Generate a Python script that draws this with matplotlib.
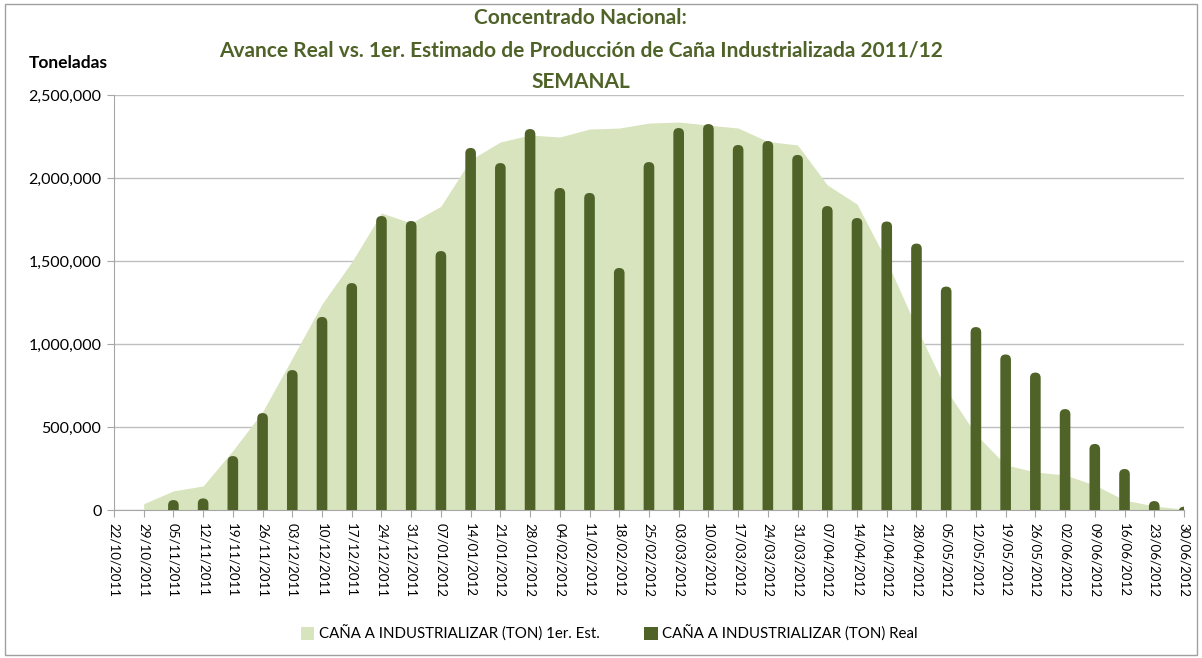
import numpy as np
import pandas as pd
import matplotlib
matplotlib.use("Agg")
import matplotlib.pyplot as plt
import matplotlib.dates as mdates
from matplotlib.patches import FancyBboxPatch, Patch, Rectangle
from matplotlib.ticker import FuncFormatter

plt.rcParams['font.family'] = ['Lato', 'DejaVu Sans']

# semanas (sabados) del eje
semanas = pd.date_range("2011-10-22", "2012-06-30", freq="7D")

# 1er. estimado, desde 29/10/2011
estimado = [38000, 115000, 145000, 358000, 592000, 915000, 1241000, 1494000,
            1789000, 1729000, 1830000, 2110000, 2217000, 2259000, 2247000,
            2295000, 2301000, 2331000, 2337000, 2319000, 2301000, 2220000,
            2199000, 1958000, 1843000, 1500000, 1100000, 725000, 455000,
            272000, 229000, 211000, 150000, 60000, 24000, 5000]

# avance real, desde 05/11/2011
real = [60000, 70000, 325000, 584000, 843000, 1163000, 1367000, 1771000,
        1741000, 1560000, 2181000, 2090000, 2295000, 1940000, 1910000,
        1458000, 2096000, 2301000, 2325000, 2199000, 2223000, 2139000,
        1831000, 1759000, 1738000, 1605000, 1346000, 1102000, 937000,
        828000, 608000, 398000, 247000, 54000, 20000]

fechas_est = semanas[1:]
fechas_real = semanas[2:]

VERDE_CLARO = "#D7E4BD"
VERDE = "#4F6228"

fig = plt.figure(figsize=(12.02, 6.58), dpi=100)
ax = fig.add_axes([0.0948, 0.2249, 0.8902, 0.6307])

# area del estimado
ax.fill_between(fechas_est, estimado, 0, color=VERDE_CLARO, lw=0, zorder=2)

# barras con tapa redondeada
ancho = 2.5  # dias
x_real = mdates.date2num(fechas_real)
ymax = 2500000
# aspecto (unidades y por pixel) / (unidades x por pixel)
aspecto = (ymax / 415.0) / (252.0 / 1070.0)
r = ancho / 2
for x, v in zip(x_real, real):
    p = FancyBboxPatch((x - ancho / 2, -r * aspecto * 2), ancho, v + r * aspecto * 2,
                       boxstyle="round,pad=0,rounding_size=%f" % r,
                       mutation_aspect=aspecto, fc=VERDE, ec="none", zorder=3)
    ax.add_patch(p)

ax.set_xlim(semanas[0], semanas[-1])
ax.set_ylim(0, ymax)
ax.set_yticks(np.arange(0, 2500001, 500000))
ax.yaxis.set_major_formatter(FuncFormatter(lambda v, _: f"{int(v):,}"))
ax.yaxis.grid(True, color="#BFBFBF", lw=1)
ax.set_axisbelow(True)

ax.set_xticks(semanas)
ax.set_xticklabels([d.strftime("%d/%m/%Y") for d in semanas], rotation=270,
                   fontsize=9.6)
ax.tick_params(axis='y', labelsize=11.5, length=5, color="#A6A6A6", pad=4)
ax.tick_params(axis='x', length=5, color="#A6A6A6", pad=4)

for s in ["top", "right"]:
    ax.spines[s].set_visible(False)
for s in ["left", "bottom"]:
    ax.spines[s].set_color("#A6A6A6")

fig.text(0.483, 0.972, "Concentrado Nacional:", ha="center", va="center",
         fontsize=15, fontweight="bold", color=VERDE)
fig.text(0.483, 0.924, "Avance Real vs. 1er. Estimado de Producción de Caña Industrializada 2011/12",
         ha="center", va="center", fontsize=15, fontweight="bold", color=VERDE)
fig.text(0.483, 0.876, "SEMANAL", ha="center", va="center",
         fontsize=15, fontweight="bold", color=VERDE)
fig.text(0.057, 0.905, "Toneladas", ha="center", va="center",
         fontsize=12.5, fontweight="bold", color="black")

handles = [Patch(fc=VERDE_CLARO, ec="none"),
           Patch(fc=VERDE, ec="none")]
fig.legend(handles, ["CAÑA A INDUSTRIALIZAR (TON) 1er. Est.",
                     "CAÑA A INDUSTRIALIZAR (TON) Real"],
           loc="center", bbox_to_anchor=(0.507, 0.037), ncol=2, frameon=False,
           fontsize=10.8, handlelength=0.9, handleheight=0.9,
           handletextpad=0.3, columnspacing=3.0)

fig.add_artist(Rectangle((0.004, 0.004), 0.992, 0.99, transform=fig.transFigure,
                         fill=False, ec="#A0A0A0", lw=1))

fig.savefig("out.png", dpi=100)
